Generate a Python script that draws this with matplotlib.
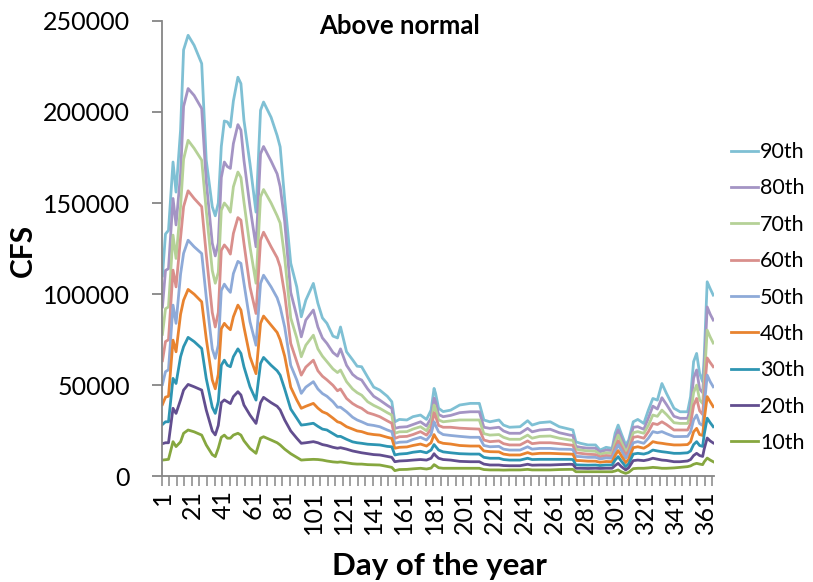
import numpy as np
import matplotlib
matplotlib.use('Agg')
import matplotlib.pyplot as plt

plt.rcParams['font.family'] = ['Lato', 'DejaVu Sans']

# daily flow percentiles, thousands of CFS
days = [1, 3, 5, 8, 10, 13, 15, 18, 22, 27, 30, 34, 36, 38, 40, 42, 44, 46, 48, 51,
        53, 55, 59, 63, 66, 68, 73, 77, 79, 82, 86, 90, 93, 96, 101, 104, 107, 110, 114, 117,
        119, 123, 127, 130, 133, 137, 141, 145, 150, 153, 155, 158, 163, 167, 172, 176, 179, 181, 182, 184,
        187, 192, 198, 205, 211, 214, 218, 224, 227, 231, 238, 243, 246, 251, 258, 264, 271, 273, 275, 278,
        283, 288, 291, 295, 299, 301, 303, 305, 308, 310, 313, 316, 320, 323, 326, 329, 332, 335, 340, 344,
        349, 351, 353, 355, 357, 359, 360, 362, 364, 366]

p90 = [110, 133, 135, 172.5, 156, 190, 234, 242, 236.5, 226.5, 173.5, 148, 143, 150, 181, 195, 194.5, 191.7, 206, 219,
       215.5, 195.4, 171.6, 145, 200.9, 205.4, 197, 187, 180.8, 152, 117, 104, 87.6, 96.7, 105.9, 95, 87, 84, 77, 76,
       82, 68.4, 64, 60.5, 60.2, 54.5, 49, 47.4, 44, 41, 30, 31.3, 31, 32.8, 33.7, 31.3, 36.4, 48.3, 45.6, 37.4,
       35.6, 36.4, 39.2, 40.1, 40.1, 31, 30, 31, 28.2, 27, 27.3, 30.6, 28.2, 29.5, 30, 27.3, 25.9, 25.5, 19, 18.2,
       17.3, 17.3, 14.5, 16, 15.4, 23.7, 28.2, 23.7, 17.3, 20, 30, 31.3, 29.1, 36.4, 42.8, 41.9, 51, 45.6, 37.4, 35.5,
       35.5, 43.8, 63, 67.5, 56.5, 52, 65, 106.8, 103, 99.5]
p80 = [93, 113, 114, 152.5, 138, 166, 203, 212.8, 209, 201.8, 162, 128, 121, 128, 164, 172.5, 170, 169, 182.6, 193,
       190, 173.5, 148, 126, 177, 181, 173, 166, 159, 140, 101, 88, 76.6, 85.8, 91.3, 82, 76, 73, 68, 66,
       70, 61, 56, 54, 52.9, 48, 44, 41.9, 39, 37.4, 26.4, 27, 27.3, 28.5, 30, 27.7, 32, 43, 41, 34,
       32.8, 33.5, 35, 35.5, 35.5, 27, 26.4, 27, 25, 23.7, 23.7, 26.4, 24.5, 25.5, 25.9, 24, 22.7, 22.5, 16.5, 16,
       15.5, 15.5, 13.5, 14.5, 14.2, 21, 25.5, 21.5, 15.4, 18, 27, 27.3, 25.9, 32, 38.6, 37, 43.2, 39.5, 33, 31.9,
       31.9, 38, 54, 58.4, 48, 46, 58, 93, 89, 85.8]
p70 = [78, 92, 93, 132.4, 119.6, 148, 174, 184.4, 180, 173.5, 146, 113, 106, 112, 146, 150, 148, 145, 158.9, 167,
       164, 150.6, 126, 106, 153.4, 157.4, 150, 143, 139, 120, 87, 76, 65.7, 72, 77.5, 70, 66, 63, 59, 57,
       58.4, 52, 48, 46, 44.6, 41, 39, 37.4, 35, 33.7, 23.7, 24.5, 24.6, 26, 27.3, 25.1, 29, 39.2, 37, 31,
       30, 30.5, 31, 31, 31, 23.5, 22.7, 23, 21.5, 20.4, 20.4, 22.7, 21, 22, 22.2, 21, 20, 19.8, 15, 14.5,
       14, 13.8, 12.2, 13, 12.7, 18.5, 22.7, 19, 13.6, 16, 24, 24.6, 23.7, 28, 33.7, 33, 36.4, 34, 29.5, 29.1,
       29.1, 34, 46, 50.1, 42, 40, 52, 80.3, 76.5, 73.2]
p60 = [63.5, 74, 75, 113.2, 104, 131, 148, 156.7, 152.5, 148, 122, 90, 82, 90, 124, 127, 125, 122, 133.3, 142,
       140.6, 127.9, 104, 89.4, 129.6, 134, 126, 120, 115, 100, 73, 63, 55.6, 60, 63.8, 58, 55, 53, 50, 47,
       48, 42.8, 40, 38.5, 37.4, 35, 34, 32.8, 30.5, 29.2, 20.9, 21.8, 22, 23, 24.6, 22.7, 26, 35, 33, 28,
       27, 27, 26.5, 26.2, 26, 20, 19.1, 19.5, 18, 17.3, 17.3, 19.5, 18, 18.5, 18.5, 18, 17.3, 17.1, 13, 12.7,
       12.2, 12, 10.8, 11.5, 11.2, 16, 19.6, 16.5, 11.8, 14, 21.5, 21.9, 21, 24.5, 29.1, 28.5, 30, 28.5, 25.5, 25.5,
       25.5, 29, 39, 42.8, 36, 34, 45, 65, 62.5, 60.2]
p50 = [50.5, 57.5, 58.5, 94, 84, 111, 122.4, 129.6, 126, 122.3, 98.5, 70, 64.8, 72, 102, 105.5, 103, 101, 111.3, 118,
       116.9, 106, 84.9, 72, 105.9, 110.4, 104, 98, 93, 82, 61, 53, 45.6, 49, 52, 48, 45.5, 44, 41, 38,
       38, 35.5, 32.5, 31, 30, 28.5, 28, 27.3, 25.5, 24.6, 18.2, 18.8, 19, 20.3, 21.5, 20, 23, 30, 28, 24.5,
       23, 22.5, 22, 21.5, 21.5, 17, 16.3, 16.5, 15, 14.5, 14.5, 16.3, 15, 15.4, 15.4, 15, 14.9, 14.7, 11, 10.9,
       10.5, 10.5, 9.6, 10.2, 10, 14, 17.3, 14.5, 10, 12, 18.5, 19.1, 18.2, 21, 24.6, 24, 24.6, 23.5, 21.9, 21.9,
       22, 24.5, 31, 33.7, 29, 28, 38, 55.6, 52, 49.2]
p40 = [39.5, 43.5, 44, 74.8, 68.4, 89, 96.7, 102.6, 100, 95.8, 75.7, 53, 48.1, 56, 81, 84, 82, 80.5, 87.6, 94,
       91.3, 82, 65.7, 56.4, 84, 88, 83, 79, 75, 66, 49, 42, 37.4, 38.5, 40.1, 37.5, 35.5, 34.5, 32, 30,
       29.5, 27.3, 26, 25, 24.6, 23.5, 23, 22.7, 21.5, 20.9, 15.5, 16, 16.2, 17, 17.8, 16.7, 18.5, 23, 21.5, 19,
       18.2, 17.8, 17, 16.7, 16.7, 14, 13.6, 13.5, 12.3, 11.8, 11.8, 13.1, 12.3, 12.7, 12.7, 12.5, 12.3, 12.2, 8.8, 8.7,
       8.4, 8.4, 7.8, 8.2, 8.1, 11.5, 14.2, 11.5, 7.6, 9.5, 15.8, 16.3, 15.5, 17, 19.1, 18.5, 18.2, 17.8, 17.3, 17.3,
       17.5, 19, 24.5, 26.4, 23, 22.5, 31, 43.8, 41, 38.3]
p30 = [28.5, 30, 30, 53.8, 51, 65.7, 71.2, 76.3, 74, 70.2, 53.8, 38, 34.6, 41, 61, 63.8, 61, 60.2, 65.7, 70,
       67.5, 60.2, 49.2, 41.9, 62, 65.3, 61, 58, 55.6, 48, 37, 32, 28.2, 28.5, 29.2, 27.5, 26, 25.5, 23.5, 22,
       22, 20.4, 19, 18.5, 18.2, 17.7, 17.5, 17.3, 16.5, 16.3, 11.8, 12.3, 12.6, 13.3, 13.8, 13, 14.5, 17.5, 16.5, 14.5,
       13.5, 13, 12.5, 12.3, 12.3, 10.5, 10, 10, 9.3, 9, 9, 10, 9.3, 9.4, 9.4, 9.4, 9.4, 9.3, 6.4, 6.3,
       6.2, 6.3, 6, 6.3, 6.3, 9, 10.9, 8.5, 5.4, 7, 12.3, 12.7, 12.3, 13, 14.5, 14, 13.6, 13.3, 12.7, 12.7,
       13, 14, 17.5, 19.1, 17, 16.5, 23, 32, 29.5, 27.3]
p20 = [18, 18.5, 18.5, 37.4, 34.6, 42, 47.4, 50.5, 49.2, 47.4, 36.5, 25, 22.8, 28, 40.5, 42, 41, 40, 43.8, 46.5,
       44.7, 39.2, 33.7, 29.1, 40.5, 43.4, 40.5, 38.5, 36.5, 31, 25, 21, 18.2, 18.5, 19.1, 18.5, 17.5, 17, 16, 15.5,
       15.8, 15, 14, 13.5, 13, 12.5, 12, 11.8, 11, 10.5, 8.1, 8.5, 8.7, 9, 9.3, 9, 10, 12.5, 11.5, 10,
       9.3, 9, 8.3, 8.1, 8.1, 6.8, 6.3, 6.3, 6, 5.9, 5.9, 6.7, 6.2, 6.3, 6.3, 6.5, 6.7, 6.6, 4.5, 4.5,
       4.4, 4.5, 4.4, 4.5, 4.5, 6, 7.2, 5.5, 3.6, 4.8, 8.7, 9, 8.7, 9.2, 10, 9.5, 9, 8.8, 8.1, 8.1,
       8.5, 9.3, 11.5, 12.7, 11.5, 11, 15, 21.1, 19.5, 18.4]
p10 = [9, 9.2, 9.4, 19.1, 16.4, 19, 23.7, 25.5, 24.5, 22.7, 17.3, 12, 10.9, 15.5, 21.5, 22.7, 21, 21, 22.7, 23.7,
       22.7, 19.6, 15.4, 12.7, 21, 21.8, 20, 18.5, 17.3, 15, 12.5, 10.5, 9, 9.2, 9.4, 9.3, 9, 8.5, 8, 7.8,
       8, 7.5, 7, 6.8, 6.8, 6.5, 6.4, 6.3, 5.5, 5, 3.2, 3.8, 3.9, 4.2, 4.5, 4.1, 4.6, 6.5, 6, 4.8,
       4.5, 4.5, 4.5, 4.5, 4.5, 3.8, 3.6, 3.6, 3.5, 3.6, 3.6, 3.9, 3.6, 3.6, 3.6, 3.8, 3.9, 3.9, 2.6, 2.6,
       2.6, 2.6, 2.6, 2.6, 2.6, 3, 3.6, 2.6, 1.7, 2.3, 4.3, 4.5, 4.5, 4.7, 5, 4.8, 4.5, 4.5, 4.7, 5,
       5.4, 5.8, 6.7, 7.2, 6.8, 6.5, 8, 10.1, 9, 8.1]

labels = ['90th', '80th', '70th', '60th', '50th', '40th', '30th', '20th', '10th']
colors = ['#7fc0d4', '#a494c4', '#b5d197', '#d98f8c', '#8eaad8',
          '#e8832f', '#2e95b2', '#624e8f', '#86a73f']


def percentile_plot(savefile='out.png'):
    fig = plt.figure(figsize=(8.13, 5.82), dpi=100)
    ax = fig.add_axes([0.1989, 0.1813, 0.6793, 0.7831])

    series = [p90, p80, p70, p60, p50, p40, p30, p20, p10]
    for vals, lab, col in zip(series, labels, colors):
        ax.plot(days, np.array(vals) * 1000, color=col, lw=2.0,
                solid_joinstyle='round', label=lab)

    ax.set_xlim(0.5, 366.5)
    ax.set_ylim(0, 250000)
    ax.set_yticks(np.arange(0, 250001, 50000))
    ax.set_xticks(np.arange(1, 362, 20))
    ax.set_xticks(np.arange(0.5, 367, 5), minor=True)

    grey = '#868686'
    for side in ['top', 'right']:
        ax.spines[side].set_visible(False)
    for side in ['left', 'bottom']:
        ax.spines[side].set_color(grey)
        ax.spines[side].set_linewidth(1.3)

    ax.tick_params(axis='y', direction='out', length=7, width=1.3, color=grey,
                   labelsize=18, pad=16)
    ax.tick_params(axis='x', which='major', length=0, labelsize=18, pad=10,
                   labelrotation=90)
    ax.tick_params(axis='x', which='minor', direction='out', length=7,
                   width=1.1, color=grey)

    ax.set_ylabel('CFS', fontsize=21.5, fontweight='bold')
    ax.yaxis.set_label_coords(-0.226, 0.495)
    ax.set_xlabel('Day of the year', fontsize=22.5, fontweight='bold')
    ax.xaxis.set_label_coords(0.502, -0.165)

    ax.text(0.431, 0.988, 'Above normal', transform=ax.transAxes,
            ha='center', va='center', fontsize=18.5, fontweight='bold')

    fig.legend(loc='center left', bbox_to_anchor=(731 / 813, 0.4888),
               frameon=False, fontsize=15.5, handlelength=1.25,
               handletextpad=0.1, labelspacing=0.76, borderpad=0,
               borderaxespad=0)

    fig.savefig(savefile, dpi=100)
    return ax


if __name__ == '__main__':
    percentile_plot()
